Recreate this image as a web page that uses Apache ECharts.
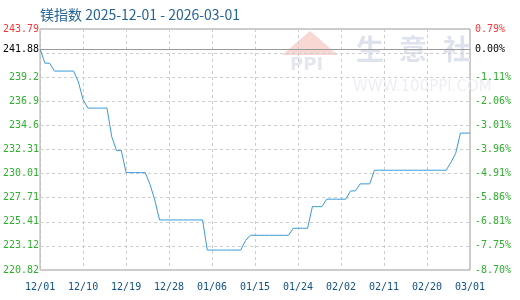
<!DOCTYPE html>
<html>
<head>
<meta charset="utf-8">
<script src="https://cdn.jsdelivr.net/npm/echarts@6/dist/echarts.min.js"></script>
<style>
html,body{margin:0;padding:0;background:#fff;}
#chart{width:520px;height:300px;}
</style>
</head>
<body>
<div id="chart"></div>
<script>
// ---- data ----
const titleText = '镁指数 2025-12-01 - 2026-03-01';
const startDate = [2025, 12, 1];
const dayCount = 91;
const indexValues = [
  241.88, 240.53, 240.53, 239.78, 239.78, 239.78, 239.78, 239.78, 238.76, 237.04,
  236.25, 236.25, 236.25, 236.25, 236.25, 233.51, 232.20, 232.20, 230.10, 230.10,
  230.10, 230.10, 230.10, 228.98, 227.50, 225.59, 225.59, 225.59, 225.59, 225.59,
  225.59, 225.59, 225.59, 225.59, 225.59, 222.72, 222.72, 222.72, 222.72, 222.72,
  222.72, 222.72, 222.72, 223.62, 224.13, 224.13, 224.13, 224.13, 224.13, 224.13,
  224.13, 224.13, 224.13, 224.80, 224.80, 224.80, 224.80, 226.86, 226.86, 226.86,
  227.57, 227.57, 227.57, 227.57, 227.57, 228.36, 228.36, 229.03, 229.03, 229.03,
  230.33, 230.33, 230.33, 230.33, 230.33, 230.33, 230.33, 230.33, 230.33, 230.33,
  230.33, 230.33, 230.33, 230.33, 230.33, 230.33, 231.08, 231.94, 233.87, 233.87,
  233.87
];
const baseValue = 241.88;
const baseLabelLeft = '241.88';
const baseLabelRight = '0.00%';
const leftTicks = ['220.82','223.12','225.41','227.71','230.01','232.31','234.6','236.9','239.2','','243.79'];
const rightTicks = ['-8.70%','-7.75%','-6.81%','-5.86%','-4.91%','-3.96%','-3.01%','-2.06%','-1.11%','','0.79%'];

// categories (dates)
const dates = [];
for (let i = 0; i < dayCount; i++) {
  const d = new Date(Date.UTC(startDate[0], startDate[1] - 1, startDate[2] + i));
  const mm = String(d.getUTCMonth() + 1).padStart(2, '0');
  const dd = String(d.getUTCDate()).padStart(2, '0');
  dates.push(mm + '/' + dd);
}

const yMin = parseFloat(leftTicks[0]);
const yMax = parseFloat(leftTicks[leftTicks.length - 1]);

const MONO = '"DejaVu Sans Mono", "Liberation Mono", monospace';
const RED = '#ff3333', GREEN = '#2fb02f', NAVY = '#0f5189';
const tickColor = function (v, i) { return i === leftTicks.length - 1 ? RED : GREEN; };
const FS = 10;

const chart = echarts.init(document.getElementById('chart'), null, {renderer: 'canvas'});
chart.setOption({
  animation: false,
  backgroundColor: '#fff',
  title: {
    text: titleText,
    left: 35, top: 3,
    textStyle: {color: '#24639a', fontSize: 14, fontWeight: 'normal', fontFamily: '"Noto Sans CJK SC", "Noto Sans", sans-serif'}
  },
  graphic: [
    {type: 'polygon', z: 0, shape: {points: [[282, 55], [310, 31], [338, 55]]}, style: {fill: '#f9d8d4'}},
    {type: 'text', z: 0, left: 290, top: 56, style: {text: 'PPI', fill: '#e4e8ee', font: 'bold 18px "DejaVu Sans", sans-serif'}},
    {type: 'text', z: 0, left: 356, top: 35, style: {text: '生', fill: '#dde2ec', font: 'bold 28px "Noto Sans CJK SC", sans-serif'}},
    {type: 'text', z: 0, left: 399, top: 35, style: {text: '意', fill: '#dde2ec', font: 'bold 28px "Noto Sans CJK SC", sans-serif'}},
    {type: 'text', z: 0, left: 443, top: 35, style: {text: '社', fill: '#dde2ec', font: 'bold 28px "Noto Sans CJK SC", sans-serif'}},
    {type: 'text', z: 0, left: 353, top: 80, style: {text: 'WWW.100PPI.COM', fill: '#eceef2', font: '15px "DejaVu Sans", sans-serif'}}
  ],
  grid: {left: 40, right: 50, top: 29, bottom: 30, show: true, borderColor: '#9a9a9a', borderWidth: 1, backgroundColor: 'transparent'},
  xAxis: {
    type: 'category', data: dates, boundaryGap: false,
    axisLine: {show: false}, axisTick: {show: false},
    axisLabel: {interval: 8, color: NAVY, fontFamily: MONO, fontSize: FS, margin: 12},
    splitLine: {show: true, interval: 8, lineStyle: {color: '#cccccc', type: [3, 3], width: 1}}
  },
  yAxis: [
    {
      type: 'category', data: leftTicks, boundaryGap: false, position: 'left',
      axisLine: {show: false}, axisTick: {show: false},
      axisLabel: {interval: 0, margin: 1, color: tickColor, fontFamily: MONO, fontSize: FS},
      splitLine: {show: true, interval: 0, lineStyle: {color: '#cccccc', type: [3, 3], width: 1}}
    },
    {
      type: 'category', data: rightTicks, boundaryGap: false, position: 'right',
      axisLine: {show: false}, axisTick: {show: false},
      axisLabel: {interval: 0, margin: 5, color: tickColor, fontFamily: MONO, fontSize: FS},
      splitLine: {show: false}
    },
    {type: 'value', min: yMin, max: yMax, show: false, splitLine: {show: false}}
  ],
  series: [{
    type: 'line', yAxisIndex: 2, data: indexValues, symbol: 'none', smooth: false,
    lineStyle: {color: '#3a9ad9', width: 1},
    markLine: {
      silent: true, symbol: 'none',
      lineStyle: {color: '#9a9a9a', type: 'solid', width: 1},
      data: [
        {yAxis: baseValue, label: {position: 'start', formatter: baseLabelLeft, color: '#000', fontFamily: MONO, fontSize: FS, distance: 1}},
        {yAxis: baseValue, label: {position: 'end', formatter: baseLabelRight, color: '#000', fontFamily: MONO, fontSize: FS, distance: 5}}
      ]
    }
  }]
});
</script>
</body>
</html>
